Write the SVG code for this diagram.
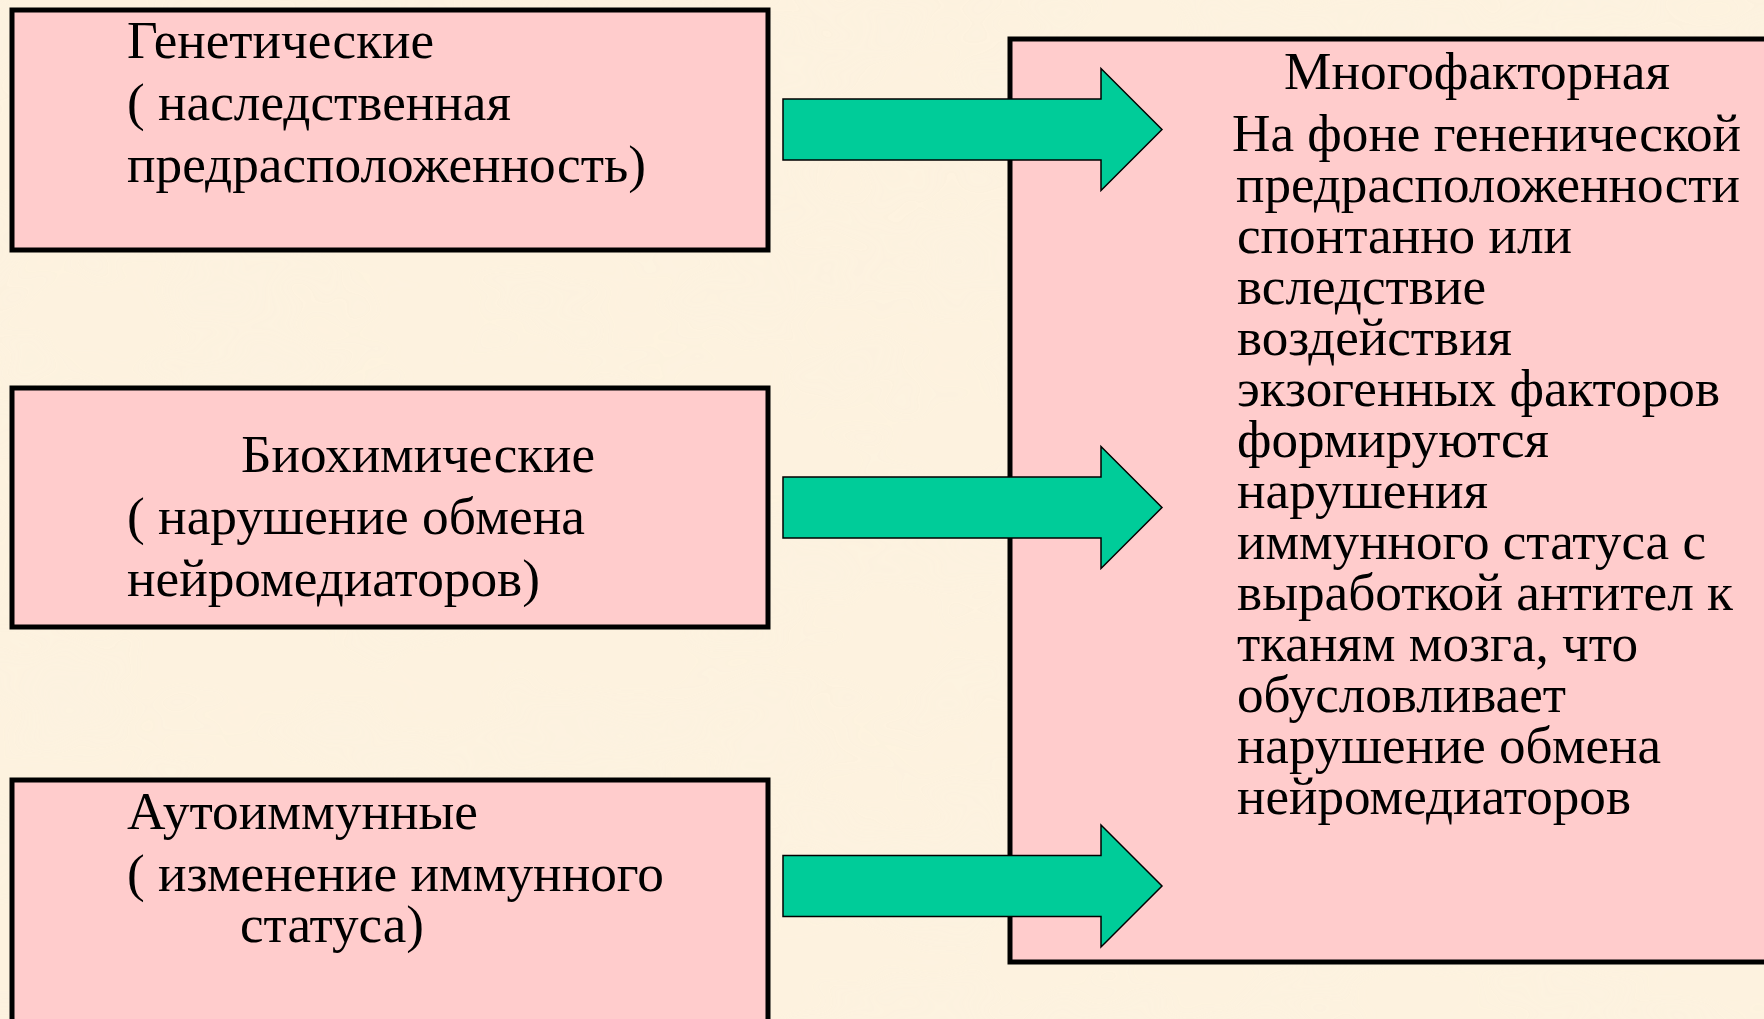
<svg xmlns="http://www.w3.org/2000/svg" width="1764" height="1019" viewBox="0 0 1764 1019">
<defs>
<filter id="parch" x="0" y="0" width="100%" height="100%">
<feTurbulence type="fractalNoise" baseFrequency="0.006 0.01" numOctaves="3" seed="7" result="n"/>
<feColorMatrix in="n" type="matrix" values="0 0 0 0 0.96  0 0 0 0 0.89  0 0 0 0 0.76  0 0 0 -1.2 0.75"/>
</filter>
<style>
.bg{fill:#FDF2DF}
.box{fill:#FFCCCC;stroke:#000;stroke-width:5}
.arrow{fill:#00CC99;stroke:#000;stroke-width:1.5;stroke-linejoin:miter}
.t{font-family:"Liberation Serif","Times New Roman",serif;font-size:53px;fill:#000}
</style>
</defs>
<rect class="bg" x="0" y="0" width="1764" height="1019"/>
<rect x="0" y="0" width="1764" height="1019" filter="url(#parch)" opacity="0.55"/>

<g id="node-genetic">
<rect class="box" x="12" y="10" width="756" height="240"/>
<text class="t" x="127" y="58" textLength="307" lengthAdjust="spacingAndGlyphs">Генетические</text>
<text class="t" x="127" y="120" textLength="384" lengthAdjust="spacingAndGlyphs">( наследственная</text>
<text class="t" x="127" y="182" textLength="519" lengthAdjust="spacingAndGlyphs">предрасположенность)</text>
</g>

<g id="node-biochemical">
<rect class="box" x="12" y="388" width="756" height="239"/>
<text class="t" x="241" y="472" textLength="354" lengthAdjust="spacingAndGlyphs">Биохимические</text>
<text class="t" x="127" y="534" textLength="458" lengthAdjust="spacingAndGlyphs">( нарушение обмена</text>
<text class="t" x="127" y="596" textLength="413" lengthAdjust="spacingAndGlyphs">нейромедиаторов)</text>
</g>

<g id="node-autoimmune">
<rect class="box" x="12" y="780" width="756" height="300"/>
<text class="t" x="127" y="829" textLength="351" lengthAdjust="spacingAndGlyphs">Аутоиммунные</text>
<text class="t" x="127" y="891" textLength="537" lengthAdjust="spacingAndGlyphs">( изменение иммунного</text>
<text class="t" x="240" y="942" textLength="184" lengthAdjust="spacingAndGlyphs">статуса)</text>
</g>

<g id="node-multifactor">
<rect class="box" x="1010" y="39" width="800" height="923"/>
<text class="t" x="1284" y="89" textLength="386" lengthAdjust="spacingAndGlyphs">Многофакторная</text>
<text class="t" x="1232" y="151" textLength="509" lengthAdjust="spacingAndGlyphs">На фоне гененической</text>
<text class="t" x="1236" y="202" textLength="504" lengthAdjust="spacingAndGlyphs">предрасположенности</text>
<text class="t" x="1237" y="253" textLength="335" lengthAdjust="spacingAndGlyphs">спонтанно или</text>
<text class="t" x="1237" y="304" textLength="249" lengthAdjust="spacingAndGlyphs">вследствие</text>
<text class="t" x="1237" y="355" textLength="275" lengthAdjust="spacingAndGlyphs">воздействия</text>
<text class="t" x="1237" y="406" textLength="483" lengthAdjust="spacingAndGlyphs">экзогенных факторов</text>
<text class="t" x="1237" y="457" textLength="312" lengthAdjust="spacingAndGlyphs">формируются</text>
<text class="t" x="1237" y="508" textLength="251" lengthAdjust="spacingAndGlyphs">нарушения</text>
<text class="t" x="1237" y="559" textLength="469" lengthAdjust="spacingAndGlyphs">иммунного статуса с</text>
<text class="t" x="1237" y="610" textLength="496" lengthAdjust="spacingAndGlyphs">выработкой антител к</text>
<text class="t" x="1237" y="661" textLength="401" lengthAdjust="spacingAndGlyphs">тканям мозга, что</text>
<text class="t" x="1237" y="712" textLength="329" lengthAdjust="spacingAndGlyphs">обусловливает</text>
<text class="t" x="1237" y="763" textLength="424" lengthAdjust="spacingAndGlyphs">нарушение обмена</text>
<text class="t" x="1237" y="814" textLength="394" lengthAdjust="spacingAndGlyphs">нейромедиаторов</text>
</g>

<g id="connectors">
<polygon class="arrow" points="783,99 1101,99 1101,68.5 1162,129.5 1101,190.5 1101,160 783,160"/>
<polygon class="arrow" points="783,477 1101,477 1101,446.5 1162,507.5 1101,568.5 1101,538 783,538"/>
<polygon class="arrow" points="783,855.5 1101,855.5 1101,825 1162,886 1101,947 1101,916.5 783,916.5"/>
</g>
</svg>
